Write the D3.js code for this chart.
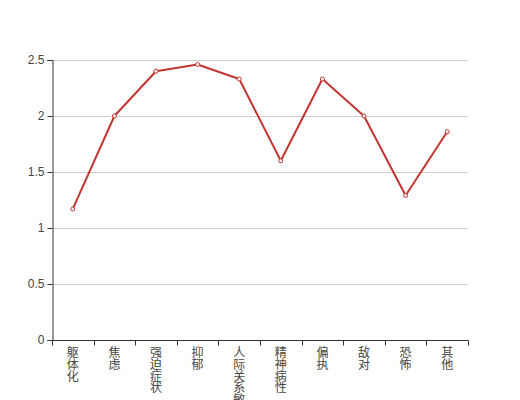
<!DOCTYPE html>
<html><head><meta charset="utf-8">
<script src="https://cdn.jsdelivr.net/npm/d3@7"></script>
<style>body{margin:0;background:#fff}svg{display:block}</style>
</head><body><svg id="c" width="520" height="400"></svg>
<script>
const categories = ["躯体化","焦虑","强迫症状","抑郁","人际关系敏感","精神病性","偏执","敌对","恐怖","其他"];
const values = [1.17, 2.0, 2.4, 2.46, 2.33, 1.6, 2.33, 2.0, 1.29, 1.86];
const yTicks = [0, 0.5, 1, 1.5, 2, 2.5];

(function () {
const svg = d3.select("#c");
const mLeft = 52, mRight = 468, mTop = 60, mBottom = 340;
const x = d3.scaleBand().domain(categories).range([mLeft, mRight]);
const y = d3.scaleLinear().domain([0, 2.5]).range([mBottom, mTop]);
const font = "'Liberation Sans', 'Noto Sans CJK SC', sans-serif";
const txt = "#444";

// grid
svg.append("g").selectAll("line").data(yTicks.filter(d => d > 0)).join("line")
  .attr("x1", mLeft).attr("x2", mRight)
  .attr("y1", d => Math.round(y(d)) + 0.5).attr("y2", d => Math.round(y(d)) + 0.5)
  .attr("stroke", "#ccc").attr("stroke-width", 1);

// y axis
const yAxis = svg.append("g").attr("transform", `translate(${mLeft + 0.5},0)`)
  .call(d3.axisLeft(y).tickValues(yTicks).tickSize(5).tickPadding(3).tickFormat(d => String(d)));
yAxis.select(".domain").attr("stroke", "#333");
yAxis.selectAll(".tick line").attr("stroke", "#333");
yAxis.selectAll("text").attr("fill", txt).style("font-size", "12px").style("font-family", font);

// x axis
const xg = svg.append("g").attr("transform", `translate(0,${mBottom + 0.5})`);
xg.append("line").attr("x1", mLeft).attr("x2", mRight + 0.5).attr("stroke", "#333");
const edges = categories.map(c => x(c)).concat([mRight]);
xg.selectAll("line.tk").data(edges).join("line").attr("class", "tk")
  .attr("x1", d => Math.round(d) + 0.5).attr("x2", d => Math.round(d) + 0.5)
  .attr("y1", 0).attr("y2", 5).attr("stroke", "#333");
const lbl = xg.selectAll("text").data(categories).join("text")
  .attr("x", d => x(d) + x.bandwidth() / 2)
  .attr("text-anchor", "middle").attr("fill", txt)
  .style("font-size", "12px").style("font-family", font);
lbl.each(function(d) {
  const t = d3.select(this);
  Array.from(d).forEach((ch, i) => {
    t.append("tspan").attr("x", x(d) + x.bandwidth() / 2).attr("y", 16.5 + i * 11.8).text(ch);
  });
});

// line
const line = d3.line().x((d, i) => x(categories[i]) + x.bandwidth() / 2).y(d => y(d));
svg.append("path").datum(values).attr("d", line)
  .attr("fill", "none").attr("stroke", "#c23531").attr("stroke-width", 2).attr("stroke-linejoin", "bevel");
svg.append("g").selectAll("circle").data(values).join("circle")
  .attr("cx", (d, i) => x(categories[i]) + x.bandwidth() / 2).attr("cy", d => y(d)).attr("r", 2)
  .attr("fill", "#fff").attr("stroke", "#c23531").attr("stroke-width", 1);
})();
</script></body></html>
